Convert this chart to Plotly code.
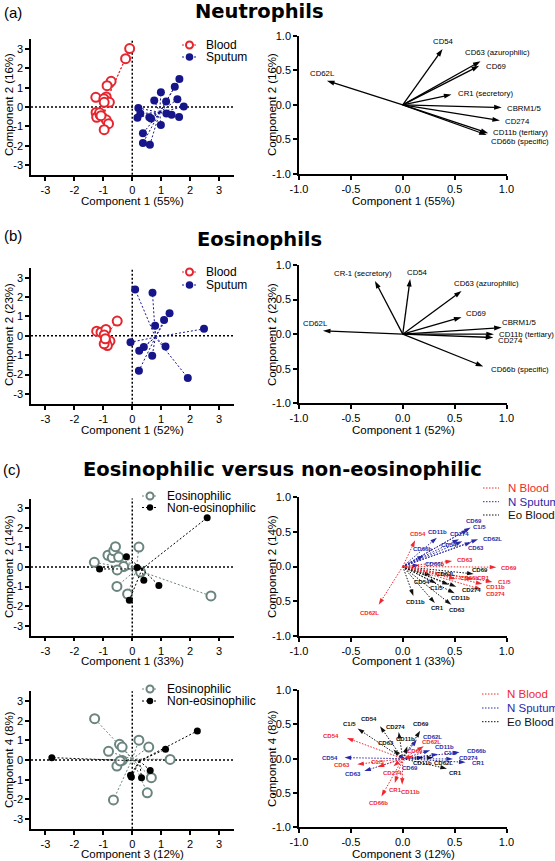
import plotly.graph_objects as go

W, H = 555, 861
FONT = "Liberation Sans, Arial, Helvetica, sans-serif"
TITLE_FONT = "DejaVu Sans, Verdana, sans-serif"

RED = "#E5262E"
NAVY = "#16168A"
TEAL = "#6A847F"
C_RED = "#F0282E"
C_BLUE = "#2A2AA8"
C_BLACK = "#111111"
FINE_DOT = "1.5px,1.5px"
SPOKE_DOT = "2px,2px"

# ------------------------------------------------------------------ DATA
score_ticks = [-3, -2, -1, 0, 1, 2, 3]
score_tick_text = ["-3", "-2", "-1", "0", "1", "2", "3"]
load_ticks = [-1.0, -0.5, 0.0, 0.5, 1.0]
load_tick_text = ["-1.0", "-0.5", "0.0", "0.5", "1.0"]

# (a) Neutrophils - scores, component 1 vs 2
neu_blood_x = [-0.09, -0.23, -0.73, -0.87, -1.26, -0.90, -0.98, -0.79, -0.97, -1.25, -1.23, -1.11, -1.13, -0.90, -0.82, -0.97, -1.08]
neu_blood_y = [3.02, 2.50, 1.33, 1.10, 0.50, 0.52, 0.43, 0.24, 0.24, -0.28, -0.53, -0.40, -0.30, -0.66, -0.86, -1.17, -0.45]
neu_blood_centre = [-0.97, 0.07]
neu_sputum_x = [1.63, 1.47, 0.99, 0.76, 1.17, 1.56, 1.78, 0.21, 0.28, 0.18, 0.59, 0.65, 1.18, 1.36, 1.62, 0.99, 0.37, 0.37, 0.61]
neu_sputum_y = [1.45, 1.05, 0.76, 0.34, 0.28, 0.40, 0.02, -0.05, -0.34, -0.55, -0.53, -0.60, -0.34, -0.40, -0.52, -0.93, -1.36, -1.86, -1.95]
neu_sputum_centre = [0.95, -0.28]

# (a) Neutrophils - loadings
neu_markers = ["CD54", "CD63 (azurophilic)", "CD69", "CD62L", "CR1 (secretory)", "CBRM1/5", "CD274", "CD11b (tertiary)", "CD66b (specific)"]
neu_load_x = [0.384, 0.750, 0.737, -0.731, 0.470, 0.954, 0.937, 0.824, 0.809]
neu_load_y = [0.807, 0.630, 0.565, 0.348, 0.149, -0.039, -0.228, -0.410, -0.435]

# (b) Eosinophils - scores
eos_blood_x = [-0.52, -1.23, -1.08, -0.91, -0.97, -0.77, -0.91, -0.86, -0.97, -0.93]
eos_blood_y = [0.76, 0.24, 0.19, 0.33, 0.05, -0.27, -0.33, -0.50, -0.41, -0.15]
eos_blood_centre = [-0.90, 0.02]
eos_sputum_x = [0.10, 0.70, 1.29, 1.10, 0.79, 2.48, -0.06, 0.40, 0.24, 1.15, 0.69, 0.23, 1.92]
eos_sputum_y = [2.39, 2.22, 1.17, 0.82, 0.52, 0.36, -0.33, -0.57, -0.77, -0.55, -1.03, -1.80, -2.17]
eos_sputum_centre = [0.80, -0.07]

# (b) Eosinophils - loadings
eos_markers = ["CR-1 (secretory)", "CD54", "CD63 (azurophilic)", "CD69", "CBRM1/5", "CD11b (tertiary)", "CD274", "CD66b (specific)", "CD62L"]
eos_load_x = [-0.268, 0.071, 0.567, 0.567, 0.954, 0.879, 0.873, 0.776, -0.770]
eos_load_y = [0.770, 0.798, 0.625, 0.245, 0.095, 0.000, -0.049, -0.467, 0.048]

# (c) Eosinophilic vs non-eosinophilic - scores, component 1 vs 2
ce12_eos_x = [-1.31, -0.84, -0.69, -0.64, -0.58, -0.47, -0.30, -0.52, -0.53, -0.16, 0.23, 0.29, 2.72]
ce12_eos_y = [0.24, 0.60, 0.48, 0.83, 1.04, 0.51, 0.02, -0.15, -0.99, -1.38, 1.02, -0.26, -1.48]
ce12_eos_centre = [0.14, -0.14]
ce12_non_x = [-1.13, -0.20, 0.17, 0.40, 0.92, -0.10, 2.59]
ce12_non_y = [-0.10, 0.53, -0.03, -0.68, -0.94, -1.70, 2.52]
ce12_non_centre = [0.34, -0.10]

# (c) scores, component 3 vs 4
ce34_eos_x = [-1.30, -0.44, -0.35, -0.82, -0.35, -0.53, -0.65, 0.23, 0.57, 1.31, 0.66, 0.52, -0.42]
ce34_eos_y = [2.10, 0.80, 0.66, 0.44, -0.02, -0.31, -2.03, 1.01, 0.66, 0.03, -0.90, -1.67, -0.05]
ce34_eos_centre = [0.00, 0.05]
ce34_non_x = [-2.78, 2.25, 1.15, 0.62, 0.32, -0.06, -0.03]
ce34_non_y = [0.12, 1.48, 0.55, -0.53, -0.90, -0.78, -0.87]
ce34_non_centre = [0.25, -0.05]

# (c) loadings, component 1 vs 2
c12_nblood_markers = ["CD54", "CD62L", "CD63", "CD69", "CR1", "C1/5", "CD11b", "CD274", "CD66b"]
c12_nblood_x = [0.119, -0.232, 0.477, 0.903, 0.677, 0.865, 0.768, 0.758, 0.510]
c12_nblood_y = [0.379, -0.553, 0.078, -0.010, -0.184, -0.223, -0.252, -0.330, -0.180]
c12_nsput_markers = ["CD69", "C1/5", "CD274", "CD62L", "CD63", "CD54", "CD11b", "CD66b", "CD66b"]
c12_nsput_x = [0.655, 0.629, 0.542, 0.726, 0.661, 0.574, 0.329, 0.203, 0.161]
c12_nsput_y = [0.563, 0.534, 0.393, 0.393, 0.350, 0.364, 0.417, 0.160, 0.019]
c12_eoblood_markers = ["CD69", "CD62L", "CD54", "C1/5", "CD274", "CD11b", "CD11b", "CR1", "CD63"]
c12_eoblood_x = [0.684, 0.274, 0.323, 0.445, 0.516, 0.500, 0.103, 0.310, 0.468]
c12_eoblood_y = [-0.107, -0.131, -0.243, -0.262, -0.291, -0.388, -0.427, -0.529, -0.553]

# (c) loadings, component 3 vs 4
c34_nblood_markers = ["CD54", "CD63", "C1/5", "CD274", "CD69", "CR1", "CD11b", "CD66b", "CD62L"]
c34_nblood_x = [-0.539, -0.439, -0.242, -0.090, 0.103, -0.077, -0.006, -0.206, 0.203]
c34_nblood_y = [0.302, -0.083, -0.122, -0.112, 0.034, -0.356, -0.380, -0.551, 0.180]
c34_nsput_markers = ["CD54", "CD63", "CD69", "CD62L", "CD11b", "C1/5", "CD66b", "CD274", "CR1"]
c34_nsput_x = [-0.561, -0.371, 0.019, 0.135, 0.265, 0.342, 0.548, 0.484, 0.606]
c34_nsput_y = [0.015, -0.180, -0.034, 0.278, 0.122, 0.063, 0.093, -0.005, -0.054]
c34_eoblood_markers = ["C1/5", "CD54", "CD274", "CD69", "CD63", "CD11b", "CD11b", "CD62L", "CR1"]
c34_eoblood_x = [-0.435, -0.219, -0.039, 0.168, -0.090, 0.045, 0.200, 0.297, 0.426]
c34_eoblood_y = [0.439, 0.473, 0.390, 0.405, 0.132, 0.181, 0.015, 0.015, -0.146]

# ------------------------------------------------------------------ LABEL PLACEMENT (layout only)
neu_lab = [("center", 1, 8), ("left", -18, 9), ("left", 5, -1), ("center", -4, 7), ("left", 4, 1),
           ("left", 3, -1), ("left", 3, -1), ("left", 3, 1), ("left", 2, -7)]
eos_lab = [("right", 19, 7), ("left", -5, 6), ("left", -10, 7), ("left", 2, 4), ("left", -2, 5),
           ("left", 3, 0), ("left", 3, -3), ("left", 6, -3), ("center", -7, 7)]
c12_nblood_lab = [("center", 3, 6), ("center", -9, -8), ("left", 3, 1), ("left", 3, -1), ("left", 2, 1),
                  ("left", 4, 0), ("left", 2, -3.5), ("left", 3, -5), ("left", 2, 1)]
c12_nsput_lab = [("center", 3, 7), ("left", 3, 3), ("center", 1, 5), ("left", 3, 0), ("center", 5, -6),
                 ("right", -3, -4), ("center", 1, 6), ("center", -1, 6), ("left", 4, 1)]
c12_eoblood_lab = [("left", -4, 4), ("left", 3, 2), ("right", -4, 1), ("right", -4, -3), ("left", 4, -3),
                   ("center", 6, -5), ("center", 2, -6), ("center", 3, -5), ("center", 6, -5)]
c34_nblood_lab = [("right", -6, 2), ("right", -5, -1), ("center", 0, 5), ("center", -1, -7), ("center", 2, 5),
                  ("center", 1, -7), ("center", 8, -7), ("center", -3, -7), ("center", 8, 4)]
c34_nsput_lab = [("right", -5, 0), ("center", -11, -3), ("center", 5, -7), ("left", 4, 3), ("left", 3, 3),
                 ("left", 4, 1), ("left", 5, 1), ("left", 4, 1), ("left", 4, -1)]
c34_eoblood_lab = [("center", -8, 4.5), ("center", -11, 7), ("center", -3, 5), ("center", 1, 7), ("center", -7, 7),
                   ("center", -2, 7), ("center", -1, -5), ("center", 10, -5), ("center", 9, -4)]

# ------------------------------------------------------------------ FIGURE
fig = go.Figure()
shapes, annotations = [], []


def pxx(v):
    return v / W


def pxy(v):
    return 1 - v / H


def ref(kind, n):
    return kind if n == 1 else f"{kind}{n}"


def axname(kind, n):
    return f"{kind}axis" if n == 1 else f"{kind}axis{n}"


LEFT_X = [31 / W, 233.5 / W]
RIGHT_X = [299 / W, 506.5 / W]
ROWS_L = [(39.3, 174.7), (268, 403.7), (498.5, 635.5), (691.2, 828.8)]
ROWS_R = [(35.7, 174), (265, 403.3), (497.3, 635.7), (690, 827.3)]

base_axis = dict(showline=True, linecolor="black", linewidth=1.6, ticks="outside", ticklen=4,
                 tickwidth=1.6, tickcolor="black", showgrid=False, zeroline=False, automargin=False,
                 tickfont=dict(family=FONT, size=11, color="black"), fixedrange=True)

layout_axes = {}
for i in range(4):
    nl, nr = 2 * i + 1, 2 * i + 2
    top, bot = ROWS_L[i]
    layout_axes[axname("x", nl)] = dict(base_axis, domain=LEFT_X, range=[-3.5, 3.5], tickvals=score_ticks,
                                        ticktext=score_tick_text, anchor=ref("y", nl))
    layout_axes[axname("y", nl)] = dict(base_axis, domain=[pxy(bot), pxy(top)], range=[-3.5, 3.5],
                                        tickvals=score_ticks, ticktext=score_tick_text, anchor=ref("x", nl))
    top, bot = ROWS_R[i]
    layout_axes[axname("x", nr)] = dict(base_axis, domain=RIGHT_X, range=[-1, 1], tickvals=load_ticks,
                                        ticktext=load_tick_text, anchor=ref("y", nr))
    layout_axes[axname("y", nr)] = dict(base_axis, domain=[pxy(bot), pxy(top)], range=[-1, 1],
                                        tickvals=load_ticks, ticktext=load_tick_text, anchor=ref("x", nr))
    # dotted zero lines on score plots
    shapes.append(dict(type="line", xref=ref("x", nl), yref=f"{ref('y', nl)} domain", x0=0, x1=0, y0=0, y1=1,
                       line=dict(color="black", width=1.5, dash=SPOKE_DOT), layer="below"))
    shapes.append(dict(type="line", xref=f"{ref('x', nl)} domain", yref=ref("y", nl), x0=0, x1=1, y0=0, y1=0,
                       line=dict(color="black", width=1.5, dash=SPOKE_DOT), layer="below"))


def score_group(n, xs, ys, centre, color, open_marker, size):
    sx, sy = [], []
    for x, y in zip(xs, ys):
        sx += [centre[0], x, None]
        sy += [centre[1], y, None]
    fig.add_trace(go.Scatter(x=sx, y=sy, xaxis=ref("x", n), yaxis=ref("y", n), mode="lines",
                             line=dict(color=color, width=1, dash=SPOKE_DOT), showlegend=False, hoverinfo="skip"))
    if open_marker:
        mk = dict(symbol="circle", size=size, color="white", line=dict(color=color, width=2))
    else:
        mk = dict(symbol="circle", size=size, color=color, line=dict(width=0))
    fig.add_trace(go.Scatter(x=xs, y=ys, xaxis=ref("x", n), yaxis=ref("y", n), mode="markers",
                             marker=mk, showlegend=False, cliponaxis=False))


def loadings(n, names, xs, ys, placement, color, dash, width, size, fsize, bold):
    for name, x, y, (xa, xsh, ysh) in zip(names, xs, ys, placement):
        fig.add_trace(go.Scatter(x=[0, x], y=[0, y], xaxis=ref("x", n), yaxis=ref("y", n),
                                 mode="lines+markers", line=dict(color=color, width=width, dash=dash),
                                 marker=dict(symbol="arrow", size=size, angleref="previous", color=color,
                                             line=dict(width=0)),
                                 showlegend=False, hoverinfo="skip"))
        annotations.append(dict(x=x, y=y, xref=ref("x", n), yref=ref("y", n), text=name, showarrow=False,
                                xanchor=xa, yanchor="middle", xshift=xsh, yshift=ysh,
                                font=dict(family=FONT, size=fsize, color=color,
                                          weight="bold" if bold else "normal")))


def legend_entry(x0, x1, y, color, text, text_x, text_color="black", fsize=12, marker=None, dash=SPOKE_DOT):
    shapes.append(dict(type="line", xref="paper", yref="paper", x0=pxx(x0), x1=pxx(x1), y0=pxy(y), y1=pxy(y),
                       line=dict(color=color, width=1, dash=dash)))
    if marker is not None:
        r, fill, lw = marker
        shapes.append(dict(type="circle", xref="paper", yref="paper", xsizemode="pixel", ysizemode="pixel",
                           xanchor=pxx((x0 + x1) / 2), yanchor=pxy(y), x0=-r, x1=r, y0=-r, y1=r,
                           fillcolor=fill, line=dict(color=color, width=lw)))
    annotations.append(dict(x=pxx(text_x), y=pxy(y), xref="paper", yref="paper", text=text, showarrow=False,
                            xanchor="left", yanchor="middle", font=dict(family=FONT, size=fsize, color=text_color)))


def text(x, y, s, size, angle=0, family=FONT, bold=False, anchor="center"):
    annotations.append(dict(x=pxx(x), y=pxy(y), xref="paper", yref="paper", text=s, showarrow=False,
                            xanchor=anchor, yanchor="middle", textangle=angle,
                            font=dict(family=family, size=size, color="black",
                                      weight="bold" if bold else "normal")))


# ---- panel (a)
score_group(1, neu_blood_x, neu_blood_y, neu_blood_centre, RED, True, 9)
score_group(1, neu_sputum_x, neu_sputum_y, neu_sputum_centre, NAVY, False, 8)
loadings(2, neu_markers, neu_load_x, neu_load_y, neu_lab, "black", "solid", 1.3, 8, 7.8, False)
legend_entry(182, 197, 45, RED, "Blood", 204, marker=(3.5, "white", 2))
legend_entry(182, 197, 57, NAVY, "Sputum", 204, marker=(3.8, NAVY, 0))

# ---- panel (b)
score_group(3, eos_blood_x, eos_blood_y, eos_blood_centre, RED, True, 9)
score_group(3, eos_sputum_x, eos_sputum_y, eos_sputum_centre, NAVY, False, 8)
loadings(4, eos_markers, eos_load_x, eos_load_y, eos_lab, "black", "solid", 1.3, 8, 7.8, False)
legend_entry(182, 197, 272, RED, "Blood", 204, marker=(3.5, "white", 2))
legend_entry(182, 197, 285, NAVY, "Sputum", 204, marker=(3.8, NAVY, 0))

# ---- panel (c) top
score_group(5, ce12_eos_x, ce12_eos_y, ce12_eos_centre, TEAL, True, 9)
score_group(5, ce12_non_x, ce12_non_y, ce12_non_centre, "black", False, 7)
loadings(6, c12_eoblood_markers, c12_eoblood_x, c12_eoblood_y, c12_eoblood_lab, C_BLACK, FINE_DOT, 1, 7, 6, True)
loadings(6, c12_nsput_markers, c12_nsput_x, c12_nsput_y, c12_nsput_lab, C_BLUE, FINE_DOT, 1, 7, 6, True)
loadings(6, c12_nblood_markers, c12_nblood_x, c12_nblood_y, c12_nblood_lab, C_RED, FINE_DOT, 1, 7, 6, True)
legend_entry(142, 158, 496, TEAL, "Eosinophilic", 165, marker=(3.5, "white", 2))
legend_entry(142, 158, 507.5, "black", "Non-eosinophilic", 165, marker=(3.2, "black", 0))
legend_entry(483, 499, 488, C_RED, "N Blood", 506, text_color=C_RED, fsize=11.5, dash=FINE_DOT)
legend_entry(483, 499, 501.7, C_BLUE, "N Sputum", 506, text_color=C_BLUE, fsize=11.5, dash=FINE_DOT)
legend_entry(483, 499, 515, C_BLACK, "Eo Blood", 506, text_color=C_BLACK, fsize=11.5, dash=FINE_DOT)

# ---- panel (c) bottom
score_group(7, ce34_eos_x, ce34_eos_y, ce34_eos_centre, TEAL, True, 9)
score_group(7, ce34_non_x, ce34_non_y, ce34_non_centre, "black", False, 7)
loadings(8, c34_eoblood_markers, c34_eoblood_x, c34_eoblood_y, c34_eoblood_lab, C_BLACK, FINE_DOT, 1, 7, 6, True)
loadings(8, c34_nsput_markers, c34_nsput_x, c34_nsput_y, c34_nsput_lab, C_BLUE, FINE_DOT, 1, 7, 6, True)
loadings(8, c34_nblood_markers, c34_nblood_x, c34_nblood_y, c34_nblood_lab, C_RED, FINE_DOT, 1, 7, 6, True)
legend_entry(142, 158, 689, TEAL, "Eosinophilic", 165, marker=(3.5, "white", 2))
legend_entry(142, 158, 701, "black", "Non-eosinophilic", 165, marker=(3.2, "black", 0))
legend_entry(482, 499, 694, C_RED, "N Blood", 505, text_color=C_RED, fsize=11.5, dash=FINE_DOT)
legend_entry(482, 499, 708, C_BLUE, "N Sputum", 505, text_color=C_BLUE, fsize=11.5, dash=FINE_DOT)
legend_entry(482, 499, 721.7, C_BLACK, "Eo Blood", 505, text_color=C_BLACK, fsize=11.5, dash=FINE_DOT)

# ---- titles, panel letters, axis titles
text(13, 13, "(a)", 15)
text(259, 12, "Neutrophils", 19.5, family=TITLE_FONT, bold=True)
text(13, 236, "(b)", 15)
text(259, 240, "Eosinophils", 19.5, family=TITLE_FONT, bold=True)
text(12, 470, "(c)", 15)
text(282, 470, "Eosinophilic versus non-eosinophilic", 19.5, family=TITLE_FONT, bold=True)

text(132.5, 201, "Component 1 (55%)", 11.5)
text(403, 201, "Component 1 (55%)", 11.5)
text(9, 105, "Component 2 (16%)", 11.5, angle=-90)
text(272, 105, "Component 2 (16%)", 11.5, angle=-90)

text(132.5, 430, "Component 1 (52%)", 11.5)
text(403, 430, "Component 1 (52%)", 11.5)
text(9, 335, "Component 2 (23%)", 11.5, angle=-90)
text(272, 335, "Component 2 (23%)", 11.5, angle=-90)

text(132.5, 661, "Component 1 (33%)", 11.5)
text(403, 661, "Component 1 (33%)", 11.5)
text(9, 567, "Component 2 (14%)", 11.5, angle=-90)
text(272, 567, "Component 2 (14%)", 11.5, angle=-90)

text(132.5, 854, "Component 3 (12%)", 11.5)
text(403, 854, "Component 3 (12%)", 11.5)
text(9, 760, "Component 4 (8%)", 11.5, angle=-90)
text(272, 759, "Component 4 (8%)", 11.5, angle=-90)

fig.update_layout(width=W, height=H, margin=dict(l=0, r=0, t=0, b=0, autoexpand=False), autosize=False,
                  paper_bgcolor="white", plot_bgcolor="white", showlegend=False,
                  font=dict(family=FONT, color="black"),
                  shapes=shapes, annotations=annotations, **layout_axes)

fig.write_html("out.html", config={"displayModeBar": False},
               post_script="document.body.style.margin='0px';document.body.style.overflow='hidden';")
